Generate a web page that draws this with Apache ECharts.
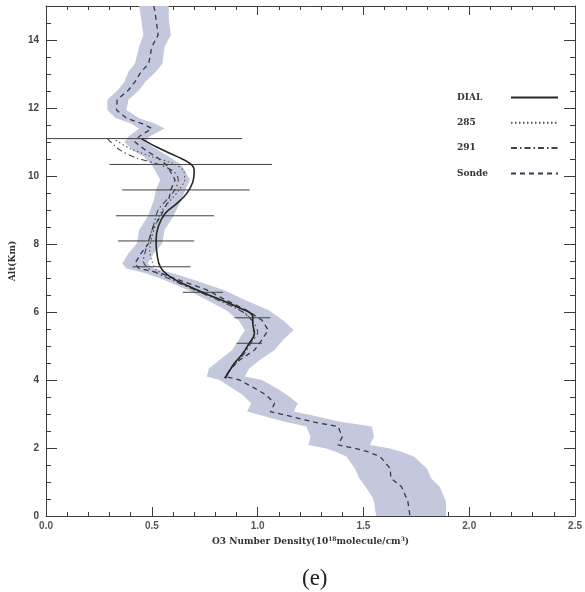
<!DOCTYPE html>
<html>
<head>
<meta charset="utf-8">
<script src="https://cdn.jsdelivr.net/npm/echarts@6/dist/echarts.min.js"></script>
<style>
  html, body { margin: 0; padding: 0; background: #ffffff; }
  #chart { width: 585px; height: 592px; }
</style>
</head>
<body>
<div id="chart"></div>
<script>
// Ozone sonde profile (altitude km, number density 1e18 molecule/cm^3) with its uncertainty band
const sondeAlt = [15.0,14.6,14.15,13.8,13.3,13.07,12.77,12.53,12.24,11.94,11.7,11.55,11.4,11.16,11.0,10.76,10.57,10.32,10.0,9.88,9.6,9.29,8.8,8.41,8.02,7.73,7.43,7.28,7.14,6.94,6.65,6.35,6.06,5.76,5.47,5.18,4.88,4.59,4.34,4.10,4.0,3.76,3.56,3.31,3.07,2.97,2.77,2.63,2.33,2.09,1.99,1.89,1.74,1.40,1.11,0.86,0.57,0.42,0.0];
const sondeO3 = [0.51,0.52,0.53,0.50,0.485,0.45,0.42,0.39,0.336,0.333,0.38,0.45,0.50,0.44,0.42,0.47,0.52,0.57,0.60,0.61,0.59,0.58,0.54,0.50,0.485,0.45,0.42,0.44,0.54,0.63,0.76,0.85,0.946,1.02,1.05,1.02,0.985,0.915,0.87,0.85,0.915,0.985,1.04,1.08,1.06,1.13,1.26,1.38,1.40,1.38,1.46,1.52,1.58,1.626,1.63,1.68,1.70,1.71,1.72];
const sondeLow = [0.44,0.45,0.46,0.44,0.42,0.39,0.37,0.34,0.29,0.29,0.33,0.40,0.44,0.39,0.37,0.41,0.46,0.50,0.53,0.54,0.52,0.51,0.48,0.44,0.43,0.39,0.36,0.38,0.47,0.56,0.67,0.76,0.85,0.91,0.94,0.91,0.88,0.82,0.77,0.76,0.82,0.88,0.93,0.97,0.95,1.01,1.13,1.23,1.25,1.24,1.32,1.37,1.42,1.46,1.48,1.51,1.54,1.55,1.56];
const sondeHigh = [0.58,0.58,0.59,0.56,0.55,0.52,0.47,0.44,0.39,0.38,0.44,0.51,0.56,0.49,0.47,0.53,0.58,0.64,0.67,0.68,0.66,0.64,0.60,0.56,0.55,0.51,0.48,0.51,0.60,0.70,0.84,0.94,1.05,1.12,1.17,1.12,1.08,1.01,0.96,0.94,1.02,1.09,1.14,1.19,1.17,1.25,1.39,1.54,1.55,1.53,1.62,1.68,1.74,1.80,1.82,1.86,1.88,1.89,1.89];

// DIAL lidar retrieval
const dialAlt = [11.1,10.86,10.57,10.37,10.18,9.88,9.49,9.2,8.9,8.51,8.12,7.73,7.33,7.04,6.74,6.45,6.16,5.86,5.67,5.37,5.08,4.78,4.49,4.2,4.05];
const dialO3 = [0.45,0.52,0.62,0.68,0.70,0.696,0.665,0.62,0.563,0.53,0.52,0.524,0.54,0.586,0.68,0.79,0.90,0.977,0.977,0.985,0.96,0.93,0.89,0.86,0.844];

// DIAL error bars
const errAlt = [11.1,10.34,9.59,8.83,8.09,7.33,6.58,5.83,5.08];
const errLow = [-0.03,0.30,0.36,0.33,0.34,0.41,0.646,0.89,0.90];
const errHigh = [0.927,1.068,0.962,0.794,0.70,0.683,0.836,1.06,1.02];

// 285 nm pair retrieval
const alt285 = [11.05,10.8,10.57,10.37,10.15,9.9,9.6,9.3,9.0,8.6,8.2,7.8,7.5,7.25,7.04,6.74,6.45,6.16,5.86,5.6,5.3,5.0,4.7,4.4,4.1];
const o3285 = [0.33,0.40,0.50,0.60,0.65,0.655,0.63,0.59,0.55,0.52,0.50,0.49,0.50,0.52,0.58,0.68,0.79,0.89,0.96,0.98,0.98,0.95,0.92,0.88,0.85];

// 291 nm pair retrieval
const alt291 = [11.1,10.76,10.52,10.37,10.15,9.9,9.6,9.3,9.0,8.6,8.2,7.8,7.5,7.3,7.1,6.9,6.6,6.3,6.0,5.7,5.4,5.1,4.8,4.5,4.2,4.05];
const o3291 = [0.29,0.35,0.43,0.52,0.60,0.625,0.61,0.57,0.53,0.51,0.49,0.47,0.46,0.48,0.54,0.61,0.72,0.83,0.93,0.98,1.0,0.97,0.94,0.90,0.86,0.85];

const legendNames = ['DIAL', '285', '291', 'Sonde'];
const xTickLabels = ['0.0', '0.5', '1.0', '1.5', '2.0', '2.5'];
const yTickLabels = ['0', '2', '4', '6', '8', '10', '12', '14'];

const pairs = (xs, ys) => xs.map((x, i) => [x, ys[i]]);

const AX = '#3c3c3c';
const serif = '"DejaVu Serif", "Liberation Serif", serif';
const sans = '"Liberation Sans", Arial, sans-serif';

function mirrorX(pos, len, showLabel) {
  return {
    type: 'value', position: pos, min: 0, max: 2.5, interval: 0.5,
    axisLine: { show: true, onZero: false, lineStyle: { color: AX, width: 1 } },
    axisTick: { show: true, inside: true, length: len, lineStyle: { color: AX } },
    minorTick: { show: true, splitNumber: 5, length: 4, lineStyle: { color: AX } },
    splitLine: { show: false },
    axisLabel: showLabel ? {
      show: true, margin: 5, color: '#555', fontFamily: sans, fontSize: 10, fontWeight: 'bold',
      formatter: v => xTickLabels[Math.round(v / 0.5)] || ''
    } : { show: false }
  };
}
function mirrorY(pos, interval, len, showLabel, withName) {
  const ax = {
    type: 'value', position: pos, min: 0, max: 15, interval: interval,
    axisLine: { show: interval === 2, onZero: false, lineStyle: { color: AX, width: 1 } },
    axisTick: { show: true, inside: true, length: len, lineStyle: { color: AX } },
    splitLine: { show: false },
    axisLabel: showLabel ? {
      show: true, margin: 7, color: '#444', fontFamily: sans, fontSize: 10, fontWeight: 'bold',
      showMaxLabel: false,
      formatter: v => (v % 2 === 0 && v <= 14) ? yTickLabels[v / 2] : ''
    } : { show: false }
  };
  if (withName) {
    ax.name = 'Alt(Km)';
    ax.nameLocation = 'middle';
    ax.nameGap = 24;
    ax.nameTextStyle = { fontFamily: serif, fontSize: 9, fontWeight: 'bold', color: '#333' };
  }
  return ax;
}

const xBottom = mirrorX('bottom', 9, true);
xBottom.name = '{a|O3 Number Density(10}{s|18}{a|molecule/cm}{s|3}{a|)}';
xBottom.nameLocation = 'middle';
xBottom.nameGap = 20;
xBottom.nameTextStyle = {
  rich: {
    a: { fontFamily: serif, fontSize: 9, fontWeight: 'bold', color: '#333', lineHeight: 12 },
    s: { fontFamily: serif, fontSize: 6, fontWeight: 'bold', color: '#333', lineHeight: 12, verticalAlign: 'top', padding: [0, 0, 4, 0] }
  }
};

const option = {
  backgroundColor: '#ffffff',
  animation: false,
  title: {
    text: '(e)', left: 297, top: 562,
    textStyle: { fontFamily: '"Liberation Serif", "DejaVu Serif", serif', fontSize: 23, fontWeight: 'normal', color: '#222' }
  },
  grid: { left: 45, right: 7, top: 6, bottom: 76, containLabel: false },
  legend: {
    data: legendNames,
    orient: 'vertical', left: 452, top: 88, align: 'right',
    itemWidth: 47, itemHeight: 10, itemGap: 16.3,
    itemStyle: { opacity: 0 },
    formatter: name => '{n|' + name + '}',
    textStyle: {
      rich: { n: { fontFamily: serif, fontSize: 9, fontWeight: 'bold', color: '#333', width: 49, align: 'left' } }
    },
    inactiveColor: '#ccc'
  },
  xAxis: [xBottom, mirrorX('top', 9, false)],
  yAxis: [
    mirrorY('left', 2, 11, true, true),
    mirrorY('left', 0.5, 5, false, false),
    mirrorY('right', 2, 11, false, false),
    mirrorY('right', 0.5, 5, false, false)
  ],
  series: [
    {
      type: 'custom', name: 'band', z: 1, clip: true,
      xAxisIndex: 0, yAxisIndex: 0,
      data: [[sondeO3[0], sondeAlt[0]]],
      renderItem: function (params, api) {
        const pts = [];
        for (let i = 0; i < sondeAlt.length; i++) pts.push(api.coord([sondeLow[i], sondeAlt[i]]));
        for (let i = sondeAlt.length - 1; i >= 0; i--) pts.push(api.coord([sondeHigh[i], sondeAlt[i]]));
        return { type: 'polygon', shape: { points: pts }, style: { fill: '#c3c8dc', stroke: null } };
      },
      silent: true
    },
    {
      type: 'custom', name: 'errors', z: 3, clip: true,
      xAxisIndex: 0, yAxisIndex: 0,
      encode: { x: [0, 1], y: 2 },
      data: errAlt.map((a, i) => [errLow[i], errHigh[i], a]),
      renderItem: function (params, api) {
        const a = api.coord([api.value(0), api.value(2)]);
        const b = api.coord([api.value(1), api.value(2)]);
        return { type: 'line', shape: { x1: a[0], y1: a[1], x2: b[0], y2: b[1] }, style: { stroke: '#404040', lineWidth: 1 } };
      },
      silent: true
    },
    {
      type: 'line', name: 'Sonde', z: 4, xAxisIndex: 0, yAxisIndex: 0,
      data: pairs(sondeO3, sondeAlt), symbol: 'none',
      lineStyle: { color: '#333a50', width: 1.3, type: [5, 4] }
    },
    {
      type: 'line', name: '285', z: 5, xAxisIndex: 0, yAxisIndex: 0,
      data: pairs(o3285, alt285), symbol: 'none', smooth: 0.3,
      lineStyle: { color: '#555', width: 1.1, type: [1.5, 2.5] }
    },
    {
      type: 'line', name: '291', z: 5, xAxisIndex: 0, yAxisIndex: 0,
      data: pairs(o3291, alt291), symbol: 'none', smooth: 0.3,
      lineStyle: { color: '#444', width: 1.1, type: [6, 3, 1.5, 3] }
    },
    {
      type: 'line', name: 'DIAL', z: 6, xAxisIndex: 0, yAxisIndex: 0,
      data: pairs(dialO3, dialAlt), symbol: 'none', smooth: 0.4,
      lineStyle: { color: '#262626', width: 1.6, type: 'solid' }
    }
  ]
};

const chart = echarts.init(document.getElementById('chart'), null, { renderer: 'canvas' });
chart.setOption(option);
</script>
</body>
</html>
